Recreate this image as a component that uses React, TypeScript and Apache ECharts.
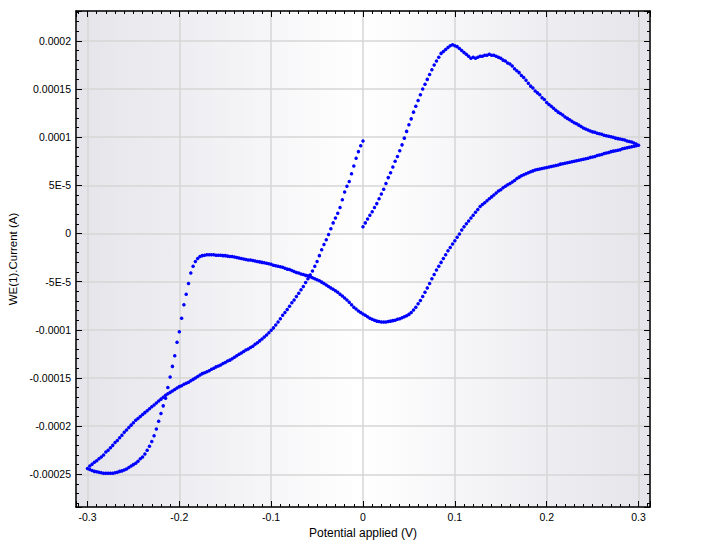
import React, { useEffect, useRef } from 'react';
import * as echarts from 'echarts';

// Sweep parameters of the voltammogram (V)
const STEP = 0.0025;
const SWEEP_VERTICES = [0, 0.3, -0.3, 0];

// Current, in microamps, one value per potential step
// Branch 1: 0 V -> +0.3 V (includes start point)
const forwardCurrent_uA = [
  7, 11, 15, 19, 22.5, 27, 31, 36, 41, 46,
  52, 58, 63, 69, 75, 80, 86, 92, 99, 106,
  113, 119, 126, 132, 138, 144, 150, 155, 160, 165,
  170, 175, 179, 183, 187, 189, 191, 193, 195, 196,
  195, 194, 192, 190, 188, 186, 184, 182, 183, 182,
  183, 184, 184, 185, 185, 186, 185, 185, 184, 183,
  182, 180, 179, 177, 176, 174, 171, 169, 167, 164,
  162, 159, 156, 153, 151, 148, 146, 144, 141, 139,
  136, 134, 132, 130, 128, 126, 124.5, 123, 121, 119.5,
  118, 116.5, 115, 114, 112.5, 111, 109.5, 108.5, 107.5, 106.5,
  105.5, 105, 104, 103.5, 103, 102, 101.5, 101, 100.5, 100,
  99, 98.5, 98, 97.5, 97, 96, 95.5, 95, 94, 93,
  91.7,
];
// Branch 2: +0.3 V -> -0.3 V
const reverseCurrent_uA = [
  91, 90.5, 90, 89.5, 89, 88.5, 88, 87, 86.5, 86,
  85.5, 85, 84, 83.5, 83, 82, 81.5, 81, 80, 79.5,
  79, 78, 77.5, 77, 76.5, 76, 75.5, 75, 74.5, 74,
  73.5, 73, 72.5, 72, 71, 70.5, 70, 69.5, 69, 68.5,
  68, 67.5, 67, 66.5, 66, 65, 64, 63, 62, 61,
  60, 58.5, 57, 55, 53.5, 52, 50.5, 49, 47.5, 45.5,
  44, 42, 40, 38, 36, 34, 32, 30, 28, 25,
  22, 19, 16, 13, 10, 7, 3.5, -0.5, -4, -7.5,
  -11, -14.5, -18, -22, -26, -30, -34, -38, -42.5, -47,
  -52, -56.5, -61, -65.5, -69.5, -73, -76.5, -79.5, -82, -84,
  -85.5, -86.5, -87.5, -88.5, -89, -90, -90.5, -91, -91.5, -92,
  -92, -92, -91.5, -91, -90, -89, -88, -86.5, -85, -83.5,
  -82, -80.5, -78.5, -76.5, -74, -71.5, -69, -67, -65, -63,
  -61, -59.5, -58, -56.5, -55, -53.5, -52, -50.5, -49, -48,
  -47, -46, -45, -44, -43.5, -42.5, -42, -41, -40.5, -39.5,
  -38.5, -37.5, -37, -36, -35, -34.5, -34, -33.5, -33, -32,
  -31.5, -31, -30.5, -30, -29.5, -29, -28.5, -28, -27.5, -27.5,
  -27, -26.5, -26, -25.5, -25, -24.5, -24, -24, -23.5, -23,
  -23, -22.5, -22.5, -22.5, -22, -22, -22, -22, -22.5, -23,
  -24, -26, -29, -34, -41, -52, -63, -74, -88, -102,
  -113, -127, -138, -149, -160, -171, -179, -187, -195, -203,
  -210, -216, -221, -225, -229, -232, -234, -236.5, -238.5, -240,
  -241.5, -243, -244.5, -245.5, -246.5, -247, -248, -248.5, -249, -249,
  -249, -249, -249, -248.5, -248, -247.5, -247, -246, -245, -244,
];
// Branch 3: -0.3 V -> 0 V
const returnCurrent_uA = [
  -241.5, -239.5, -237.5, -236, -234, -232, -230, -227, -225, -222.5,
  -220, -217, -215, -212, -209.5, -206.5, -204, -201.5, -199, -196.5,
  -194, -192, -190, -188, -186, -184, -182, -180, -178, -176,
  -174, -172, -170, -168, -166.5, -165, -163.5, -162, -160.5, -159,
  -158, -156.5, -155.5, -154.5, -153, -151.5, -150, -148.5, -147, -145.5,
  -144.5, -143.5, -142.5, -141, -140, -138.5, -137.5, -136.5, -135, -134,
  -132.5, -131.5, -130, -128.5, -127, -125.5, -124, -122.5, -121, -120,
  -118.5, -117, -115, -113.5, -111.5, -109.5, -107.5, -105.5, -103, -100.5,
  -98, -95, -92, -88.5, -85, -82, -79, -75.5, -72, -69,
  -65.5, -62, -58.5, -55, -51, -47, -43, -39, -34, -29,
  -23, -17, -11.5, -6.5, -1, 5, 11, 16, 21, 27,
  35, 43, 49, 54, 62, 70, 78, 85, 91, 96,
];

const X_MIN = -0.3125;
const X_MAX = 0.3125;
const Y_MIN = -0.000284;
const Y_MAX = 0.000231;

const X_TITLE = 'Potential applied (V)';
const Y_TITLE = 'WE(1).Current (A)';

function branch(start: number, end: number, values: number[], includeStart: boolean) {
  const dir = Math.sign(end - start);
  const off = includeStart ? 0 : 1;
  return values.map((v, i) => [
    Math.round((start + dir * STEP * (i + off)) * 1e6) / 1e6,
    v * 1e-6,
  ]);
}

const FONT = '"Liberation Sans", Arial, sans-serif';

const fmtY = (v: number) => {
  const u = Math.round(v * 1e6);
  if (u === 0) return '0';
  if (Math.abs(u) < 100) return `${u / 10}E-5`;
  return String(u / 1e6);
};
const fmtX = (v: number) => String(Math.round(v * 10) / 10);

export default function App() {
  const ref = useRef<HTMLDivElement>(null);
  useEffect(() => {
    if (!ref.current) return;
    const chart = echarts.init(ref.current, undefined, { renderer: 'svg' });
    const data = [
      ...branch(SWEEP_VERTICES[0], SWEEP_VERTICES[1], forwardCurrent_uA, true),
      ...branch(SWEEP_VERTICES[1], SWEEP_VERTICES[2], reverseCurrent_uA, false),
      ...branch(SWEEP_VERTICES[2], SWEEP_VERTICES[3], returnCurrent_uA, false),
    ];
    const axisLine = { show: true, onZero: false, lineStyle: { color: '#000', width: 1.5 } };
    const axisTick = { show: true, inside: true, length: 6, lineStyle: { color: '#000', width: 1 } };
    const splitLine = { show: true, lineStyle: { color: '#d6d6d6', width: 1.5 } };
    const labelBase = { color: '#000', fontSize: 10.5, fontFamily: FONT, showMinLabel: false, showMaxLabel: false };
    const gradient = new echarts.graphic.LinearGradient(0, 0, 1, 0, [
      { offset: 0, color: '#e4e4ea' },
      { offset: 0.5, color: '#ffffff' },
      { offset: 1, color: '#e4e4ea' },
    ]);
    chart.setOption({
      animation: false,
      backgroundColor: '#ffffff',
      grid: {
        left: 76, right: 76, top: 11, bottom: 40,
        show: true, backgroundColor: gradient, borderWidth: 0,
        containLabel: false, outerBoundsMode: 'none',
      },
      xAxis: [
        {
          type: 'value', position: 'bottom', min: X_MIN, max: X_MAX, splitNumber: 6,
          name: X_TITLE, nameLocation: 'middle', nameGap: 16,
          nameTextStyle: { color: '#000', fontSize: 12, fontFamily: FONT },
          axisLine, axisTick,
          minorTick: { show: true, splitNumber: 10, length: 3, lineStyle: { color: '#000', width: 1 } },
          axisLabel: { ...labelBase, margin: 4, formatter: fmtX },
          splitLine,
        },
        {
          type: 'value', position: 'top', min: X_MIN, max: X_MAX, splitNumber: 6,
          axisLine, axisTick,
          minorTick: { show: true, splitNumber: 10, length: 3, lineStyle: { color: '#000', width: 1 } },
          axisLabel: { show: false }, splitLine: { show: false },
        },
      ],
      yAxis: [
        {
          type: 'value', position: 'left', min: Y_MIN, max: Y_MAX, splitNumber: 10,
          name: Y_TITLE, nameLocation: 'middle', nameGap: 53, nameRotate: 90,
          nameTextStyle: { color: '#000', fontSize: 11.5, fontFamily: FONT },
          axisLine, axisTick,
          minorTick: { show: true, splitNumber: 5, length: 3, lineStyle: { color: '#000', width: 1 } },
          axisLabel: { ...labelBase, margin: 5, formatter: fmtY },
          splitLine,
        },
        {
          type: 'value', position: 'right', min: Y_MIN, max: Y_MAX, splitNumber: 10,
          axisLine, axisTick,
          minorTick: { show: true, splitNumber: 5, length: 3, lineStyle: { color: '#000', width: 1 } },
          axisLabel: { show: false }, splitLine: { show: false },
        },
      ],
      series: [
        {
          type: 'scatter', xAxisIndex: 0, yAxisIndex: 0,
          data, symbol: 'circle', symbolSize: 3.5,
          itemStyle: { color: '#0000ff', opacity: 1 },
        },
      ],
    });
    return () => chart.dispose();
  }, []);
  return <div ref={ref} style={{ position: 'fixed', left: 0, top: 0, width: 726, height: 547 }} />;
}
